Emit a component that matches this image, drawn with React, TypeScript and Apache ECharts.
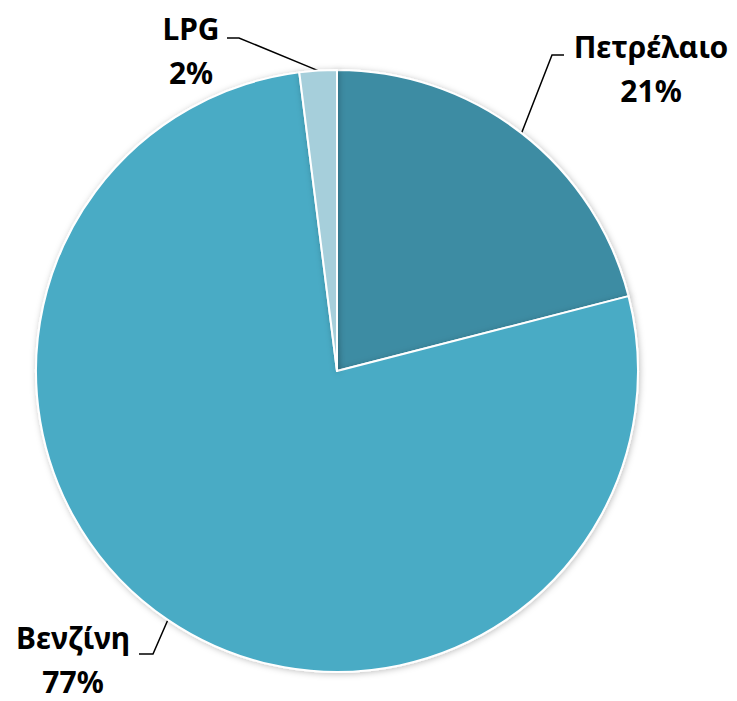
import React, { useEffect, useRef } from "react";
import * as echarts from "echarts";

const categories = ["Πετρέλαιο", "Βενζίνη", "LPG"];
const shares = [21, 77, 2];
const colors = ["#3d8ca3", "#4aabc5", "#a6cfdb"];

// label block centres (layout only)
const labelPos: [number, number][] = [
  [651, 68],
  [73, 659],
  [191, 50],
];
const elbowOffsets: [number, number][] = [
  [552, 55],
  [153, 654],
  [239, 38],
];
const lineEnds: [number, number][] = [
  [564, 55],
  [139, 654],
  [227, 38],
];

export default function App() {
  const ref = useRef<HTMLDivElement>(null);
  useEffect(() => {
    document.body.style.margin = "0";
    const chart = echarts.init(ref.current!, null, { renderer: "svg" });
    chart.setOption({
      animation: false,
      backgroundColor: "#ffffff",
      series: [
        {
          type: "pie",
          center: [337, 371],
          radius: [0, 301],
          startAngle: 90,
          clockwise: true,
          data: categories.map((c, i) => ({
            name: c,
            value: shares[i],
            itemStyle: { color: colors[i] },
          })),
          itemStyle: {
            borderColor: "#ffffff",
            borderWidth: 2,
            shadowBlur: 6,
            shadowColor: "rgba(0,0,0,0.25)",
            shadowOffsetX: 1,
            shadowOffsetY: 1,
          },
          label: {
            show: true,
            position: "outside",
            formatter: "{b}\n{c}%",
            fontFamily: "'Noto Sans', 'DejaVu Sans', sans-serif",
            fontWeight: "bold",
            fontSize: 30,
            lineHeight: 44,
            color: "#000000",
            align: "center",
          },
          labelLine: {
            show: true,
            lineStyle: { color: "#000000", width: 1.5 },
          },
          labelLayout: (params: any) => {
            const i = params.dataIndex;
            const start = params.labelLinePoints
              ? params.labelLinePoints[0]
              : elbowOffsets[i];
            return {
              x: labelPos[i][0],
              y: labelPos[i][1],
              align: "center",
              verticalAlign: "middle",
              labelLinePoints: [start, elbowOffsets[i], lineEnds[i]],
            };
          },
        },
      ],
    });
    return () => chart.dispose();
  }, []);
  return <div ref={ref} style={{ width: 737, height: 701 }} />;
}
